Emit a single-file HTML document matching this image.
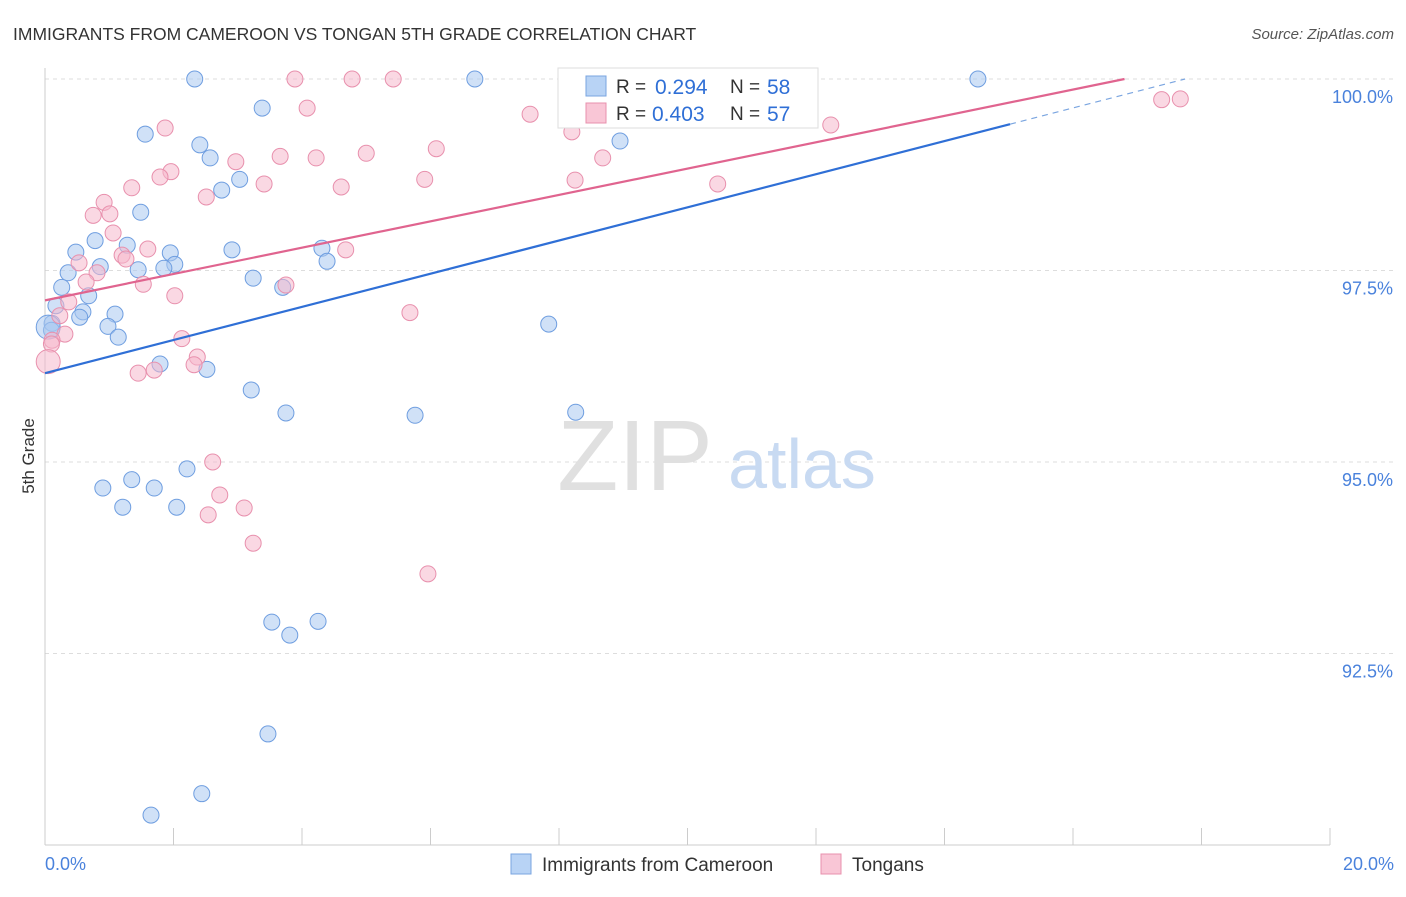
<!DOCTYPE html>
<html><head><meta charset="utf-8"><style>
body{margin:0;background:#fff;font-family:"Liberation Sans",sans-serif;}
svg text{font-family:"Liberation Sans",sans-serif;}
</style></head><body>
<svg width="1406" height="892" viewBox="0 0 1406 892">
<text x="13" y="40" font-size="17.5" fill="#333">IMMIGRANTS FROM CAMEROON VS TONGAN 5TH GRADE CORRELATION CHART</text>
<text x="1394" y="39" font-size="15" fill="#555" font-style="italic" text-anchor="end">Source: ZipAtlas.com</text>
<g id="grid"></g>
<g><text x="635" y="490" font-size="100" fill="#e0e0e0" font-family="Liberation Serif" text-anchor="middle">ZIP</text><text x="802" y="488" font-size="70" fill="#c8daf2" text-anchor="middle">atlas</text></g>
<text transform="translate(34,456) rotate(-90)" font-size="17" fill="#333" text-anchor="middle">5th Grade</text>
<g id="marks"></g>
<g>
<rect x="558" y="68" width="260" height="60" fill="#fff" stroke="#ddd"/>
<rect x="586" y="76" width="20" height="20" fill="#b8d3f5" stroke="#7aa5e0"/>
<text x="616" y="93" font-size="19" fill="#333">R =</text>
<text x="655" y="94" font-size="21" fill="#2f6fd6">0.294</text>
<text x="730" y="93" font-size="19" fill="#333">N =</text>
<text x="767" y="94" font-size="21" fill="#2f6fd6">58</text>
<rect x="586" y="103" width="20" height="20" fill="#f9c6d6" stroke="#e890ad"/>
<text x="616" y="120" font-size="19" fill="#333">R =</text>
<text x="652" y="121" font-size="21" fill="#2f6fd6">0.403</text>
<text x="730" y="120" font-size="19" fill="#333">N =</text>
<text x="767" y="121" font-size="21" fill="#2f6fd6">57</text>
</g>
<g>
<rect x="511" y="854" width="20" height="20" fill="#b8d3f5" stroke="#7aa5e0"/>
<text x="542" y="871" font-size="19" fill="#333">Immigrants from Cameroon</text>
<rect x="821" y="854" width="20" height="20" fill="#f9c6d6" stroke="#e890ad"/>
<text x="852" y="871" font-size="19" fill="#333">Tongans</text>
</g>
</svg>
<script>
const xTicks=[0,20];
const yTicks=[92.5,95,97.5,100];
const blueX=[2.33,3.38,6.69,8.64,11.60,14.52,1.56,2.41,2.57,8.95,3.03,2.75,1.49,0.78,1.28,0.48,1.95,2.91,4.31,4.39,0.86,1.45,2.02,1.85,0.36,3.24,3.70,0.26,0.68,0.17,0.59,1.09,0.54,0.11,0.98,1.14,0.10,7.84,1.79,2.52,3.21,3.75,5.76,8.26,2.21,1.35,0.90,1.70,1.21,2.05,3.53,3.81,4.25,3.47,2.44,1.65,0.05];
const blueY=[100,99.62,100,100,100,100,99.28,99.14,98.97,99.19,98.69,98.55,98.26,97.89,97.83,97.74,97.73,97.77,97.79,97.62,97.55,97.51,97.58,97.53,97.47,97.40,97.28,97.28,97.17,97.04,96.96,96.93,96.89,96.81,96.77,96.63,96.72,96.80,96.28,96.21,95.94,95.64,95.61,95.65,94.91,94.77,94.66,94.66,94.41,94.41,92.91,92.74,92.92,91.45,90.67,90.39,96.76];
const pinkX=[3.89,4.78,5.42,4.08,7.55,1.87,8.20,12.23,17.38,17.67,6.09,5.00,3.66,4.22,2.97,8.68,1.96,1.79,3.41,5.91,8.25,10.47,4.61,1.35,2.51,0.92,0.75,1.01,1.06,1.60,4.68,1.20,0.53,1.26,0.81,0.64,1.53,2.02,3.75,5.68,0.37,0.23,0.31,0.11,2.13,2.37,2.32,1.70,1.45,2.61,2.72,3.10,2.54,3.24,5.96,0.10,0.05];
const pinkY=[100,100,100,99.62,99.54,99.36,99.31,99.40,99.73,99.74,99.09,99.03,98.99,98.97,98.92,98.97,98.79,98.72,98.63,98.69,98.68,98.63,98.59,98.58,98.46,98.39,98.22,98.24,97.99,97.78,97.77,97.70,97.60,97.65,97.47,97.35,97.32,97.17,97.31,96.95,97.09,96.91,96.67,96.59,96.61,96.37,96.27,96.20,96.16,95.0,94.57,94.40,94.31,93.94,93.54,96.54,96.31];
const blueTrend=[96.16,0.2164];
const pinkTrend=[97.11,0.172];
const NS='http://www.w3.org/2000/svg';
const X=v=>45+v/20*1285, Y=v=>79+(100-v)/2.5*191.5;
function mk(p,t,a){const e=document.createElementNS(NS,t);for(const k in a)e.setAttribute(k,a[k]);p.appendChild(e);return e;}
const grid=document.getElementById('grid'),marks=document.getElementById('marks');
yTicks.forEach(t=>{const l=mk(grid,'line',{x1:45,x2:1394,y1:Y(t),y2:Y(t),stroke:'#ddd','stroke-dasharray':'4 4'});


const tx=mk(grid,'text',{x:1393,y:Y(t)+24,'font-size':18,fill:'#4a82dc','text-anchor':'end'});tx.textContent=t.toFixed(1)+'%';

});
mk(grid,'line',{x1:45,x2:45,y1:68,y2:845,stroke:'#ccc'});
mk(grid,'line',{x1:45,x2:1330,y1:845,y2:845,stroke:'#ccc'});
for(let i=0;i<=10;i++){mk(grid,'line',{x1:X(i*2),x2:X(i*2),y1:828,y2:845,stroke:'#ccc'});}
xTicks.forEach((t,i)=>{const tx=mk(grid,'text',{x:i?1394:45,y:870,'font-size':18,fill:'#4a82dc','text-anchor':i?'end':'start'});tx.textContent=t.toFixed(1)+'%';

});
function pts(xs,ys,fill,stroke,name){xs.forEach((x,i)=>{const big=x<0.07;const c=mk(marks,'circle',{cx:X(x),cy:Y(ys[i]),r:big?12:8,fill:fill,'fill-opacity':0.55,stroke:stroke,'stroke-width':1});

});}
pts(blueX,blueY,'#a9c8f0','#6f9ee0','point-cameroon');
pts(pinkX,pinkY,'#f5b8cc','#e890ad','point-tongans');
const bEnd=15.02,bx2=(100-blueTrend[0])/blueTrend[1];
const bl=mk(marks,'line',{x1:X(0),y1:Y(blueTrend[0]),x2:X(bEnd),y2:Y(blueTrend[0]+blueTrend[1]*bEnd),stroke:'#2f6fd6','stroke-width':2.2});


const bd=mk(marks,'line',{x1:X(bEnd),y1:Y(blueTrend[0]+blueTrend[1]*bEnd),x2:X(bx2),y2:Y(100),stroke:'#7aa5e0','stroke-width':1.2,'stroke-dasharray':'6 5'});


const px2=(100-pinkTrend[0])/pinkTrend[1];
const pl=mk(marks,'line',{x1:X(0),y1:Y(pinkTrend[0]),x2:X(px2),y2:Y(100),stroke:'#e0648f','stroke-width':2.2});


</script>
</body></html>
